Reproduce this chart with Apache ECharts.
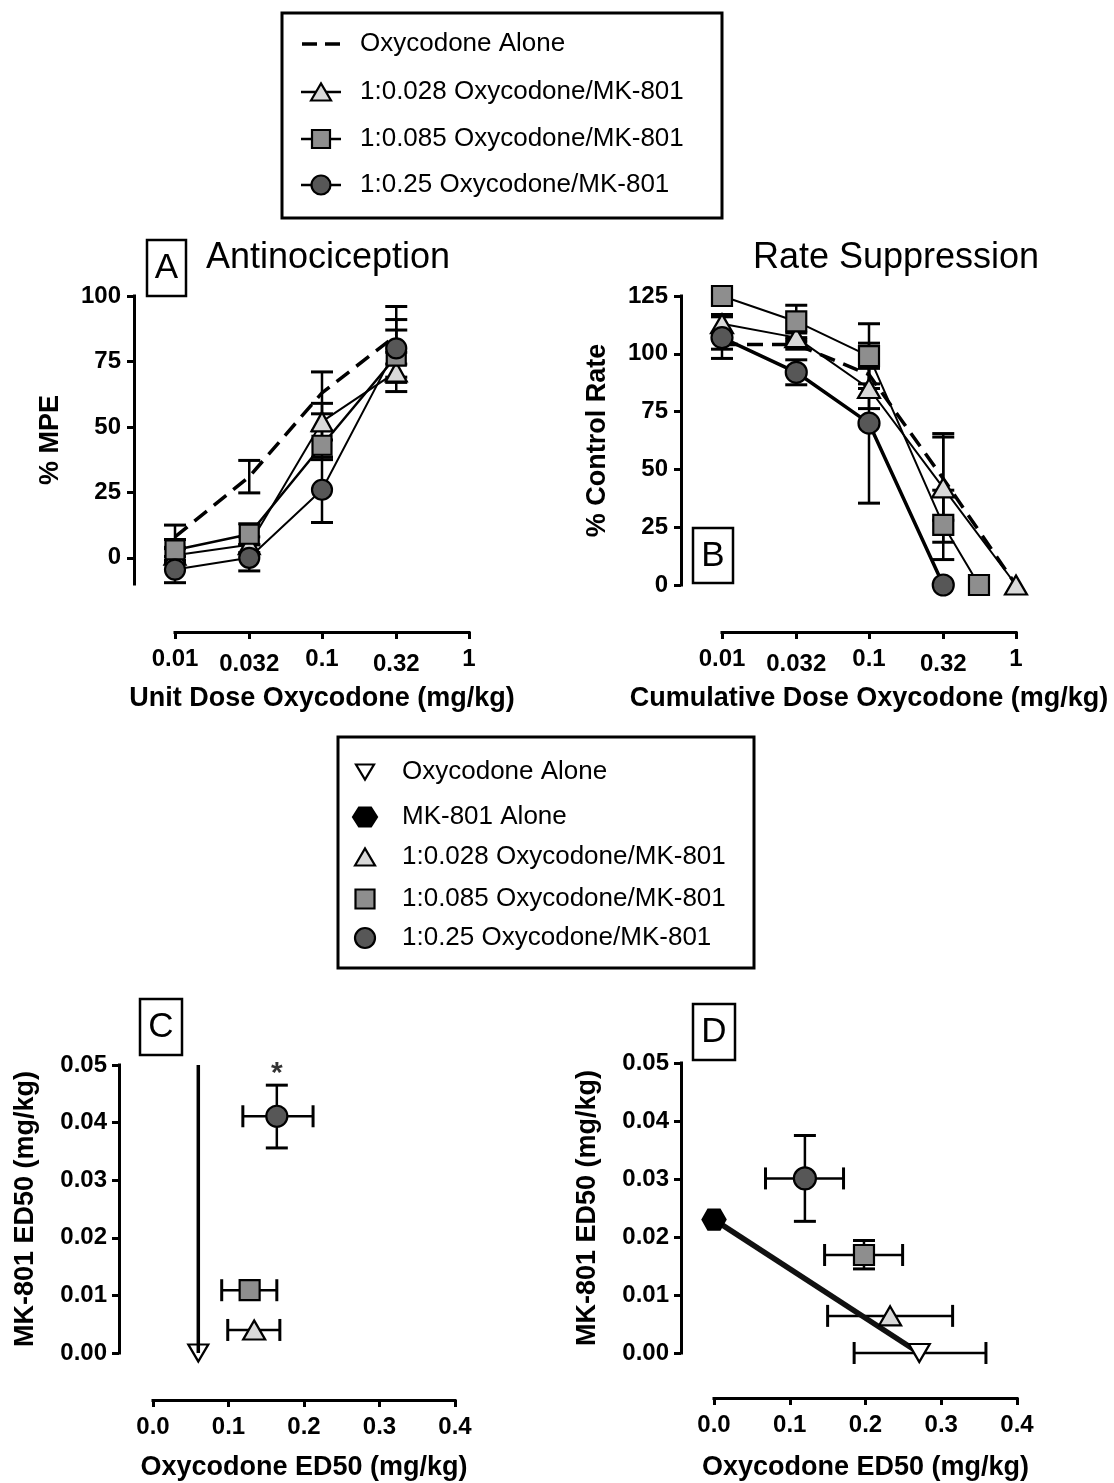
<!DOCTYPE html>
<html><head><meta charset="utf-8">
<script src="https://cdn.jsdelivr.net/npm/echarts@6/dist/echarts.min.js"></script>
<style>html,body{margin:0;padding:0;background:#fff}#c{width:1114px;height:1483px}</style>
</head><body><div id="c"></div>
<script>
const FONT = '"Liberation Sans", Arial, sans-serif';

// ---- tick labels ----
const doseTicks = [0.01, 0.032, 0.1, 0.32, 1];
const doseTickLabels = ['0.01', '0.032', '0.1', '0.32', '1'];
const mpeTicks = [0, 25, 50, 75, 100];

// ---- Panel A: Antinociception (% MPE), mean and SEM ----
const aDose = [0.01, 0.032, 0.1, 0.32];
const aOxyAlone = [8, 31, 63, 85];
const aOxyAloneSem = [4.5, 6.2, 8, 11];
const aR028 = [1, 5, 52, 71];
const aR028Sem = [3, 3, 7, 7.5];
const aR085 = [3, 9, 43, 77];
const aR085Sem = [4, 4, 5.5, 10];
const aR25 = [-4.5, 0, 26, 80];
const aR25Sem = [5, 5, 12.5, 11];

// ---- Panel B: Rate suppression (% control rate), mean and SEM ----
const bDoseOxyAlone = [0.01, 0.032, 0.1, 0.32, 1];
const bOxyAlone = [104, 104, 91, 46, 0];
const bOxyAloneSem = [2, 2, 4, 18, 0];
const bDoseR028 = [0.01, 0.032, 0.1, 0.32, 1];
const bR028 = [113, 107, 85, 42, 0];
const bR028Sem = [4, 2, 8.7, 23.5, 0];
const bDoseR085 = [0.01, 0.032, 0.1, 0.32, 0.56];
const bR085 = [125, 114, 99, 26, 0];
const bR085Sem = [1, 7, 14, 15, 0];
const bDoseR25 = [0.01, 0.032, 0.1, 0.32];
const bR25 = [107, 92, 70, 0];
const bR25Sem = [9, 5.4, 34.6, 0];

// ---- Panel C: ED50 values [oxycodone, MK-801] with 95% CI ----
const cOxyAlone = [0.06, 0];
const cAdditivityTop = 0.05;
const cR028 = [0.134, 0.0040];
const cR028XCI = [0.099, 0.168];
const cR085 = [0.128, 0.0109];
const cR085XCI = [0.091, 0.164];
const cR25 = [0.164, 0.0411];
const cR25XCI = [0.119, 0.212];
const cR25YCI = [0.0356, 0.0465];
const cSignificance = [0.164, 0.0497];

// ---- Panel D: ED50 values [oxycodone, MK-801] with 95% CI ----
const dMkAlone = [0, 0.0230];
const dOxyAlone = [0.271, 0];
const dOxyAloneXCI = [0.185, 0.359];
const dR028 = [0.2325, 0.0064];
const dR028XCI = [0.150, 0.315];
const dR085 = [0.198, 0.0169];
const dR085XCI = [0.146, 0.249];
const dR085YCI = [0.0145, 0.0194];
const dR25 = [0.120, 0.0301];
const dR25XCI = [0.068, 0.171];
const dR25YCI = [0.0227, 0.0375];

// ---- legend labels ----
const legendTop = ['Oxycodone Alone', '1:0.028 Oxycodone/MK-801', '1:0.085 Oxycodone/MK-801', '1:0.25 Oxycodone/MK-801'];
const legendBottom = ['Oxycodone Alone', 'MK-801 Alone', '1:0.028 Oxycodone/MK-801', '1:0.085 Oxycodone/MK-801', '1:0.25 Oxycodone/MK-801'];

// ---- styles ----
const FILL_TRI = '#d9d9d9', FILL_SQ = '#8e8e8e', FILL_CIRC = '#575757';
const HEX = 'path://M0,10L5.5,0L16.5,0L22,10L16.5,20L5.5,20Z';
const CAP = 22;

const lg = Math.log10;
function ptsLog(dose, vals) { return dose.map((d, i) => [lg(d), vals[i]]); }
function errLog(dose, vals, sem) {
  return dose.map((d, i) => [lg(d), vals[i], vals[i] - sem[i], vals[i] + sem[i]]).filter(r => r[3] > r[2]);
}
function renderV(params, api) {
  const x = api.value(0), lo = api.value(2), hi = api.value(3);
  const a = api.coord([x, lo]), b = api.coord([x, hi]), h = CAP / 2;
  const st = { stroke: '#000', lineWidth: 2.5 };
  return { type: 'group', children: [
    { type: 'line', shape: { x1: a[0], y1: a[1], x2: b[0], y2: b[1] }, style: st },
    { type: 'line', shape: { x1: a[0] - h, y1: a[1], x2: a[0] + h, y2: a[1] }, style: { stroke: '#000', lineWidth: 3 } },
    { type: 'line', shape: { x1: b[0] - h, y1: b[1], x2: b[0] + h, y2: b[1] }, style: { stroke: '#000', lineWidth: 3 } }
  ] };
}
function renderXY(params, api) {
  const x = api.value(0), y = api.value(1);
  const xlo = api.value(2), xhi = api.value(3), ylo = api.value(4), yhi = api.value(5);
  const h = CAP / 2, ch = [];
  const st = { stroke: '#000', lineWidth: 2.5 }, cst = { stroke: '#000', lineWidth: 3 };
  if (xhi > xlo) {
    const a = api.coord([xlo, y]), b = api.coord([xhi, y]);
    ch.push({ type: 'line', shape: { x1: a[0], y1: a[1], x2: b[0], y2: b[1] }, style: st });
    ch.push({ type: 'line', shape: { x1: a[0], y1: a[1] - h, x2: a[0], y2: a[1] + h }, style: cst });
    ch.push({ type: 'line', shape: { x1: b[0], y1: b[1] - h, x2: b[0], y2: b[1] + h }, style: cst });
  }
  if (yhi > ylo) {
    const a = api.coord([x, ylo]), b = api.coord([x, yhi]);
    ch.push({ type: 'line', shape: { x1: a[0], y1: a[1], x2: b[0], y2: b[1] }, style: st });
    ch.push({ type: 'line', shape: { x1: a[0] - h, y1: a[1], x2: a[0] + h, y2: a[1] }, style: cst });
    ch.push({ type: 'line', shape: { x1: b[0] - h, y1: b[1], x2: b[0] + h, y2: b[1] }, style: cst });
  }
  return { type: 'group', children: ch };
}
function errSeries(gi, name, data, render) {
  return { type: 'custom', name, xAxisIndex: gi, yAxisIndex: gi, data, renderItem: render,
    encode: { x: 0, y: 1 }, clip: false, silent: true, z: 3 };
}
function lineSeries(gi, name, data, symbol, fill, size, lw, dash) {
  return { type: 'line', name, xAxisIndex: gi, yAxisIndex: gi, data, symbol, symbolSize: size,
    showSymbol: symbol !== 'none', showAllSymbol: true, clip: false, animation: false,
    itemStyle: { color: fill, borderColor: '#000', borderWidth: 2.2 },
    lineStyle: { color: '#000', width: lw, type: dash || 'solid' }, z: 3, emphasis: { disabled: true } };
}
function pointSeries(gi, name, pt, symbol, fill, size, rotate) {
  return { type: 'scatter', name, xAxisIndex: gi, yAxisIndex: gi, data: [pt], symbol, symbolSize: size,
    symbolRotate: rotate || 0, clip: false, itemStyle: { color: fill, borderColor: '#000', borderWidth: 2.2, opacity: 1 },
    z: 4, emphasis: { disabled: true } };
}
function xy(pt, xci, yci) {
  return [[pt[0], pt[1], xci ? xci[0] : pt[0], xci ? xci[1] : pt[0], yci ? yci[0] : pt[1], yci ? yci[1] : pt[1]]];
}

const series = [
  // Panel A
  errSeries(0, legendTop[0], errLog(aDose, aOxyAlone, aOxyAloneSem), renderV),
  lineSeries(0, legendTop[0], ptsLog(aDose, aOxyAlone), 'none', '#000', 0, 3.5, [16, 9]),
  errSeries(0, legendTop[1], errLog(aDose, aR028, aR028Sem), renderV),
  lineSeries(0, legendTop[1], ptsLog(aDose, aR028), 'triangle', FILL_TRI, [21, 19], 2),
  errSeries(0, legendTop[2], errLog(aDose, aR085, aR085Sem), renderV),
  lineSeries(0, legendTop[2], ptsLog(aDose, aR085), 'rect', FILL_SQ, 19, 2.5),
  errSeries(0, legendTop[3], errLog(aDose, aR25, aR25Sem), renderV),
  lineSeries(0, legendTop[3], ptsLog(aDose, aR25), 'circle', FILL_CIRC, 20, 2),
  // Panel B
  errSeries(1, legendTop[0], errLog(bDoseOxyAlone, bOxyAlone, bOxyAloneSem), renderV),
  lineSeries(1, legendTop[0], ptsLog(bDoseOxyAlone, bOxyAlone), 'none', '#000', 0, 3.5, [16, 9]),
  errSeries(1, legendTop[1], errLog(bDoseR028, bR028, bR028Sem), renderV),
  lineSeries(1, legendTop[1], ptsLog(bDoseR028, bR028), 'triangle', FILL_TRI, [22, 19], 2),
  errSeries(1, legendTop[2], errLog(bDoseR085, bR085, bR085Sem), renderV),
  lineSeries(1, legendTop[2], ptsLog(bDoseR085, bR085), 'rect', FILL_SQ, 20, 2),
  errSeries(1, legendTop[3], errLog(bDoseR25, bR25, bR25Sem), renderV),
  lineSeries(1, legendTop[3], ptsLog(bDoseR25, bR25), 'circle', FILL_CIRC, 21, 3.5),
  // Panel C
  { type: 'line', name: 'Oxycodone Alone (additivity)', xAxisIndex: 2, yAxisIndex: 2, symbol: 'none', clip: false,
    data: [[cOxyAlone[0], cAdditivityTop], [cOxyAlone[0], cOxyAlone[1]]], lineStyle: { color: '#000', width: 3.5 }, z: 5 },
  pointSeries(2, legendBottom[0], cOxyAlone, 'triangle', '#fff', [20, 17], 180),
  errSeries(2, legendBottom[2], xy(cR028, cR028XCI), renderXY),
  pointSeries(2, legendBottom[2], cR028, 'triangle', FILL_TRI, [22, 19]),
  errSeries(2, legendBottom[3], xy(cR085, cR085XCI), renderXY),
  pointSeries(2, legendBottom[3], cR085, 'rect', FILL_SQ, 20),
  errSeries(2, legendBottom[4], xy(cR25, cR25XCI, cR25YCI), renderXY),
  pointSeries(2, legendBottom[4], cR25, 'circle', FILL_CIRC, 21),
  { type: 'scatter', name: 'significance', xAxisIndex: 2, yAxisIndex: 2, data: [cSignificance], symbolSize: 1,
    itemStyle: { color: 'rgba(0,0,0,0)' }, silent: true, z: 6,
    label: { show: true, formatter: '*', position: 'inside', offset: [0, 7], color: '#000',
      fontFamily: FONT, fontWeight: 'bold', fontSize: 30 } },
  // Panel D
  { type: 'line', name: 'Line of additivity', xAxisIndex: 3, yAxisIndex: 3, symbol: 'none', clip: false,
    data: [dMkAlone, dOxyAlone], lineStyle: { color: '#111', width: 5.5 }, z: 3 },
  errSeries(3, legendBottom[0], xy(dOxyAlone, dOxyAloneXCI), renderXY),
  pointSeries(3, legendBottom[0], dOxyAlone, 'triangle', '#fff', [21, 18], 180),
  errSeries(3, legendBottom[2], xy(dR028, dR028XCI), renderXY),
  pointSeries(3, legendBottom[2], dR028, 'triangle', FILL_TRI, [22, 19]),
  errSeries(3, legendBottom[3], xy(dR085, dR085XCI, dR085YCI), renderXY),
  pointSeries(3, legendBottom[3], dR085, 'rect', FILL_SQ, 20),
  errSeries(3, legendBottom[4], xy(dR25, dR25XCI, dR25YCI), renderXY),
  pointSeries(3, legendBottom[4], dR25, 'circle', FILL_CIRC, 22),
  pointSeries(3, legendBottom[1], dMkAlone, HEX, '#000', [23, 20])
];

// ---- axes ----
const tickFont = { color: '#000', fontFamily: FONT, fontWeight: 'bold', fontSize: 24 };
function axis(o) {
  const base = {
    type: 'value', nameLocation: 'middle',
    nameTextStyle: { color: '#000', fontFamily: FONT, fontWeight: 'bold', fontSize: 27 },
    axisLine: { show: true, onZero: false, lineStyle: { color: '#000', width: 3, cap: 'square' } },
    axisTick: { show: true, length: 7, lineStyle: { color: '#000', width: 3 } },
    splitLine: { show: false },
    axisLabel: Object.assign({}, tickFont)
  };
  const r = Object.assign({}, base, o);
  r.axisLabel = Object.assign({}, base.axisLabel, o.axisLabel || {});
  r.axisTick = Object.assign({}, base.axisTick, o.axisTick || {});
  return r;
}
const doseTickPos = doseTicks.map(lg);
function doseFmt(v) {
  let best = 0;
  doseTickPos.forEach((p, i) => { if (Math.abs(p - v) < Math.abs(doseTickPos[best] - v)) best = i; });
  return (best === 1 || best === 3 ? '{lo|' : '{n|') + doseTickLabels[best] + '}';
}
const doseRich = { n: Object.assign({}, tickFont), lo: Object.assign({ padding: [5, 0, 0, 0] }, tickFont) };
function doseAxis(gi, name, offset) {
  return axis({ gridIndex: gi, min: -2, max: 0, interval: 0.5, offset, name, nameGap: 53,
    axisLabel: { customValues: doseTickPos, formatter: doseFmt, margin: 15, rich: doseRich },
    axisTick: { customValues: doseTickPos } });
}
function edXAxis(gi, offset, gap) {
  return axis({ gridIndex: gi, min: 0, max: 0.4, interval: 0.1, offset, name: 'Oxycodone ED50 (mg/kg)', nameGap: gap,
    axisLabel: { formatter: v => v.toFixed(1), margin: 15 } });
}
function edYAxis(gi, offset, gap) {
  return axis({ gridIndex: gi, min: 0, max: 0.05, interval: 0.01, offset, name: 'MK-801 ED50 (mg/kg)', nameGap: gap,
    axisLabel: { formatter: v => v.toFixed(2), margin: 12 } });
}

// ---- graphic: titles, panel letters, legends ----
function txt(text, x, y, size, align) {
  return { type: 'text', z: 100, style: { text, x, y, font: size + 'px ' + FONT, fill: '#000',
    textAlign: align || 'left', align: align || 'left', textVerticalAlign: 'middle', verticalAlign: 'middle' } };
}
function box(x, y, w, h, lw) {
  return { type: 'rect', z: 99, shape: { x, y, width: w, height: h }, style: { fill: '#fff', stroke: '#000', lineWidth: lw } };
}
const symStyle = fill => ({ fill, stroke: '#000', lineWidth: 2.2 });
function triUp(cx, cy, w, h, fill) {
  return { type: 'polygon', z: 102, shape: { points: [[cx - w / 2, cy + h / 2], [cx, cy - h / 2], [cx + w / 2, cy + h / 2]] }, style: symStyle(fill) };
}
function triDown(cx, cy, w, h, fill) {
  return { type: 'polygon', z: 102, shape: { points: [[cx - w / 2, cy - h / 2], [cx + w / 2, cy - h / 2], [cx, cy + h / 2]] }, style: symStyle(fill) };
}
function sq(cx, cy, s, fill) {
  return { type: 'rect', z: 102, shape: { x: cx - s / 2, y: cy - s / 2, width: s, height: s }, style: symStyle(fill) };
}
function circ(cx, cy, r, fill) {
  return { type: 'circle', z: 102, shape: { cx, cy, r }, style: symStyle(fill) };
}
function hex(cx, cy, w, h, fill) {
  return { type: 'polygon', z: 102, shape: { points: [[cx - w / 2, cy], [cx - w / 4, cy - h / 2], [cx + w / 4, cy - h / 2], [cx + w / 2, cy], [cx + w / 4, cy + h / 2], [cx - w / 4, cy + h / 2]] }, style: symStyle(fill) };
}
function seg(x1, x2, y, lw, dash) {
  return { type: 'line', z: 101, shape: { x1, y1: y, x2, y2: y }, style: { stroke: '#000', lineWidth: lw, lineDash: dash || null } };
}

const topRows = [44, 92, 139, 185];
const botRows = [772, 817, 857, 899, 938];
const graphics = [
  txt('Antinociception', 328, 258, 36, 'center'),
  txt('Rate Suppression', 896, 258, 36, 'center'),
  box(147, 240, 39, 56, 2.5), txt('A', 166.5, 268, 35, 'center'),
  box(693, 528, 40, 55, 2.5), txt('B', 713, 556, 35, 'center'),
  box(140, 999, 42, 56, 2.5), txt('C', 161, 1027, 35, 'center'),
  box(693, 1004, 42, 56, 2.5), txt('D', 714, 1032, 35, 'center'),
  // top legend
  box(282, 13, 440, 205, 3),
  seg(302, 341, topRows[0], 3.5, [15, 8]),
  seg(301, 341, topRows[1], 2.5), triUp(321, topRows[1], 20, 17, FILL_TRI),
  seg(301, 341, topRows[2], 2.5), sq(321, topRows[2], 18, FILL_SQ),
  seg(301, 341, topRows[3], 2.5), circ(321, topRows[3], 9.5, FILL_CIRC),
  // bottom legend
  box(338, 737, 416, 231, 3),
  triDown(365, botRows[0], 18, 15, '#fff'),
  hex(365, botRows[1], 24, 19, '#000'),
  triUp(365, botRows[2], 20, 17, FILL_TRI),
  sq(365, botRows[3], 19, FILL_SQ),
  circ(365, botRows[4], 10, FILL_CIRC)
];
legendTop.forEach((t, i) => graphics.push(txt(t, 360, topRows[i], 26)));
legendBottom.forEach((t, i) => graphics.push(txt(t, 402, botRows[i], 26)));

const option = {
  animation: false,
  backgroundColor: '#fff',
  grid: [
    { left: 175, top: 296, width: 294, height: 288 },
    { left: 722, top: 296, width: 294, height: 289 },
    { left: 153, top: 1065, width: 302, height: 288 },
    { left: 714, top: 1063, width: 303, height: 290 }
  ],
  xAxis: [
    doseAxis(0, 'Unit Dose Oxycodone (mg/kg)', 48),
    doseAxis(1, 'Cumulative Dose Oxycodone (mg/kg)', 47),
    edXAxis(2, 47, 54),
    edXAxis(3, 45, 56)
  ],
  yAxis: [
    axis({ gridIndex: 0, min: -10, max: 100, offset: 41, name: '% MPE', nameGap: 70,
      axisLabel: { customValues: mpeTicks, margin: 13 }, axisTick: { customValues: mpeTicks } }),
    axis({ gridIndex: 1, min: 0, max: 125, interval: 25, offset: 41, name: '% Control Rate', nameGap: 70,
      axisLabel: { margin: 13 } }),
    edYAxis(2, 34, 80),
    edYAxis(3, 33, 80)
  ],
  series,
  graphic: { elements: graphics }
};
const chart = echarts.init(document.getElementById('c'), null, { renderer: 'canvas' });
chart.setOption(option);
</script></body></html>
